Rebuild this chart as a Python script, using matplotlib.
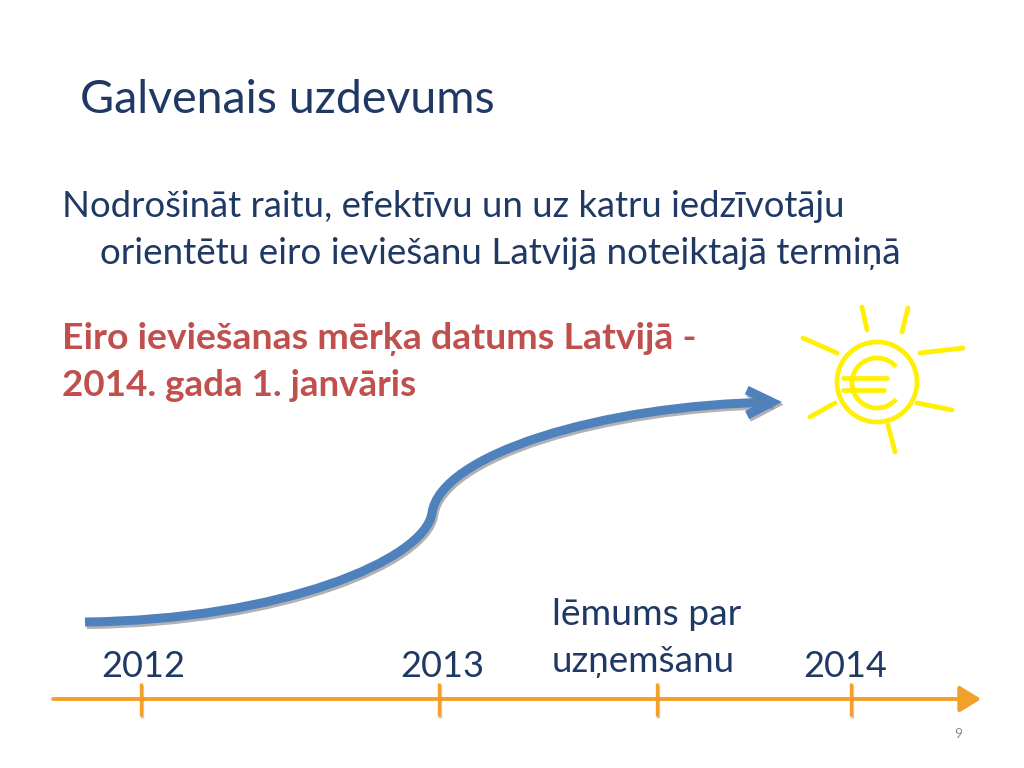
import matplotlib
matplotlib.use("Agg")
import matplotlib.pyplot as plt
from matplotlib.path import Path
from matplotlib.patches import FancyArrowPatch, Circle, Arc
import matplotlib.patheffects as pe

# ---------------- data / content ----------------
title = "Galvenais uzdevums"
body_lines = ["Nodrošināt raitu, efektīvu un uz katru iedzīvotāju",
              "orientētu eiro ieviešanu Latvijā noteiktajā termiņā"]
goal_lines = ["Eiro ieviešanas mērķa datums Latvijā -",
              "2014. gada 1. janvāris"]
year_labels = ["2012", "2013", "2014"]
year_ticks = [141, 439, 851]          # timeline tick positions (slide px)
year_label_x = [143, 442, 845]        # label centres (slide px)
event_label = ["lēmums par", "uzņemšanu"]
event_tick = 657
page_number = "9"

# growth curve control points (slide px, y downwards)
curve_x = [85, 280, 425, 432, 440, 600, 782]
curve_y = [622, 620, 560, 513, 455, 405, 402]

# sun rays (slide px)
ray_x0 = [862, 908, 803, 920, 835, 917, 888]
ray_y0 = [307, 308, 338, 353, 403, 403, 425]
ray_x1 = [867, 902, 837, 963, 810, 952, 895]
ray_y1 = [330, 332, 353, 348, 417, 410, 452]

NAVY = "#1F3864"
RED = "#C0504D"
BLUE = "#4F81BD"
ORANGE = "#F3A02A"
YELLOW = "#FFEF00"
FONT = ["Lato", "DejaVu Sans"]

fig = plt.figure(figsize=(10.24, 7.68), dpi=100)
ax = fig.add_axes([0, 0, 1, 1])
ax.set_xlim(0, 1024)
ax.set_ylim(768, 0)
ax.axis("off")
fig.canvas.draw()
renderer = fig.canvas.get_renderer()


def fit_text(x, y, s, width, ha="left", **kw):
    t = ax.text(x, y, s, fontsize=20, va="baseline", ha=ha, family=FONT, **kw)
    w = t.get_window_extent(renderer).width
    t.set_fontsize(20 * width / w)
    return t


# title and texts
fit_text(80, 113, title, 417, color=NAVY)
fit_text(62, 217, body_lines[0], 786, color=NAVY)
fit_text(100, 264, body_lines[1], 805, color=NAVY)
fit_text(62, 349, goal_lines[0], 635, color=RED, fontweight="bold")
fit_text(62, 396, goal_lines[1], 355, color=RED, fontweight="bold")
fit_text(552, 625, event_label[0], 190, color=NAVY)
fit_text(552, 672, event_label[1], 184, color=NAVY)
for lab, lx in zip(year_labels, year_label_x):
    ax.text(lx, 677, lab, fontsize=26, va="baseline", ha="center",
            family=FONT, color=NAVY)
ax.text(958, 738, page_number, fontsize=10, va="baseline", ha="center",
        family=FONT, color="#8C8C8C")

# growth curve arrow
codes = [Path.MOVETO, Path.CURVE4, Path.CURVE4, Path.CURVE4,
         Path.CURVE4, Path.CURVE4, Path.CURVE4]
curve = Path(list(zip(curve_x, curve_y)), codes)
arrow = FancyArrowPatch(path=curve, arrowstyle="->,head_length=0.9,head_width=0.45",
                        mutation_scale=20, color=BLUE, lw=6.5,
                        capstyle="butt", joinstyle="miter")
arrow.set_path_effects([pe.SimpleLineShadow(offset=(1.2, -1.8), shadow_color="#7f7f7f",
                                            alpha=0.6), pe.Normal()])
ax.add_patch(arrow)

# timeline
tl = FancyArrowPatch((53, 699), (981, 699),
                     arrowstyle="-|>,head_length=0.65,head_width=0.4",
                     mutation_scale=20, color=ORANGE, lw=2.8, shrinkA=0, shrinkB=0)
tl.set_path_effects([pe.SimplePatchShadow(offset=(0.8, -1.2), shadow_rgbFace="#9a9a9a",
                                          alpha=0.5), pe.Normal()])
ax.add_patch(tl)
for tx in year_ticks + [event_tick]:
    ax.plot([tx, tx], [683, 716], color=ORANGE, lw=2.4, solid_capstyle="butt",
            path_effects=[pe.SimpleLineShadow(offset=(0.8, -1.2), shadow_color="#9a9a9a",
                                              alpha=0.5), pe.Normal()])

# sun with euro sign
SUN_LW = 3.4
ax.add_patch(Circle((877, 382), 40, fill=False, ec=YELLOW, lw=SUN_LW))
ax.add_patch(Arc((877, 383), 50, 50, theta1=40, theta2=320, ec=YELLOW, lw=SUN_LW))
ax.plot([843, 887], [378, 378], color=YELLOW, lw=SUN_LW, solid_capstyle="round")
ax.plot([843, 884], [390, 390], color=YELLOW, lw=SUN_LW, solid_capstyle="round")
for xa, ya, xb, yb in zip(ray_x0, ray_y0, ray_x1, ray_y1):
    ax.plot([xa, xb], [ya, yb], color=YELLOW, lw=SUN_LW, solid_capstyle="round")

fig.savefig("out.png", dpi=100, facecolor="white")
